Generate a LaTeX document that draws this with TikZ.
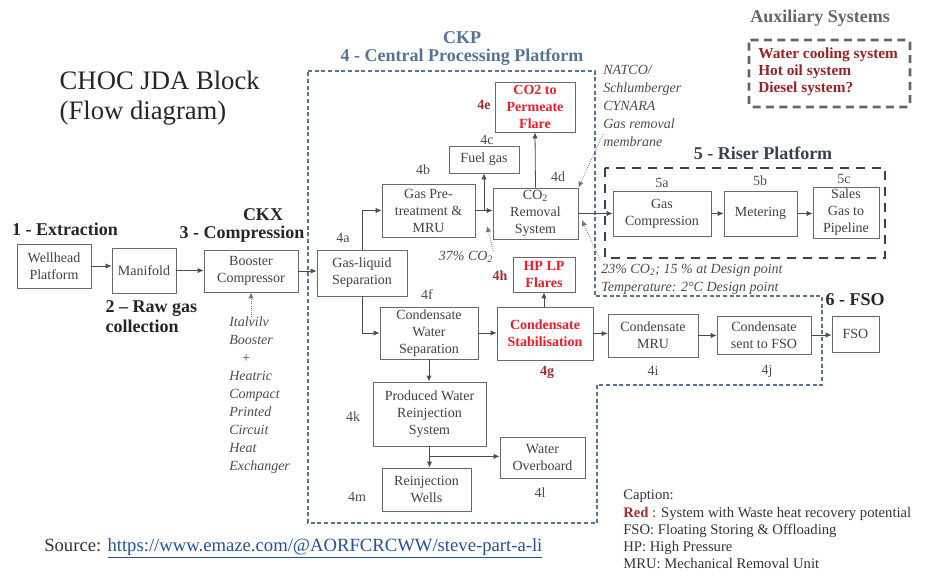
\documentclass[tikz,border=0pt]{standalone}
\usepackage{fontspec}
\setmainfont{Liberation Serif}
\usetikzlibrary{arrows.meta,positioning,calc}
\definecolor{boxLine}{RGB}{105,105,105}
\definecolor{boxText}{RGB}{65,65,65}
\definecolor{wasteRed}{RGB}{238,28,36}
\definecolor{labRed}{RGB}{165,45,45}
\definecolor{auxRed}{RGB}{150,35,35}
\definecolor{ckpBlue}{RGB}{85,115,150}
\definecolor{riserSlate}{RGB}{55,65,85}
\definecolor{noteGray}{RGB}{75,75,75}
\definecolor{linkBlue}{RGB}{35,80,160}
\tikzset{chocpanel/.style={
  x=0.75pt, y=-0.75pt,
  font=\rmfamily\fontsize{10.5}{12.75}\selectfont,
  unitbox/.style={draw=boxLine, line width=0.6pt, fill=white, text=boxText, align=center, inner sep=1pt},
  hotbox/.style={unitbox, text=wasteRed, font=\rmfamily\bfseries\fontsize{10.5}{12.75}\selectfont},
  flow/.style={-{Latex[length=4.5pt,width=4pt]}, line width=0.6pt, draw=black!70},
  hint/.style={-{Latex[length=4.5pt,width=4pt]}, densely dotted, line width=0.6pt, draw=black!55},
  stagehead/.style={font=\rmfamily\bfseries\fontsize{13.5}{15}\selectfont, text=black!85},
  tag/.style={font=\rmfamily\fontsize{10.5}{12}\selectfont, text=black!70},
  hottag/.style={font=\rmfamily\bfseries\fontsize{10.5}{12}\selectfont, text=labRed},
  note/.style={font=\rmfamily\itshape\fontsize{10.5}{13.5}\selectfont, text=noteGray, align=left, inner sep=0pt},
  ckpzone/.style={draw=ckpBlue, line width=0.8pt, dash pattern=on 3pt off 2pt},
  riserzone/.style={draw=riserSlate, line width=2pt, dash pattern=on 7pt off 5pt},
  auxzone/.style={draw=black!60, line width=2pt, dash pattern=on 6pt off 4pt, rounded corners=2pt},
}}

\begin{document}
\begin{tikzpicture}[chocpanel]
\useasboundingbox (0,0) rectangle (928,577);

% ---- title ----
\node[font=\rmfamily\fontsize{20}{22}\selectfont, text=black!85, align=left, anchor=west] (title) at (55,98) {CHOC JDA Block\\(Flow diagram)};

% ---- zones ----
\draw[ckpzone] (308,71) -- (595,71) -- (595,296) -- (822,296) -- (822,385) -- (597,385) -- (597,523) -- (308,523) -- cycle;
\draw[riserzone] (605,168) rectangle (885,258);
\draw[auxzone] (749,40) rectangle (910,107);

% ---- stage headings ----
\node[stagehead] (hExtr) at (65,229) {1 - Extraction};
\node[stagehead, align=left, anchor=west] (hRaw) at (101,317) {2 -- Raw gas\\collection};
\node[stagehead, inner sep=0pt] (hCkx) at (263,215) {CKX};
\node[stagehead, inner sep=0pt] (hComp) at (242,234) {3 - Compression};
\node[stagehead, text=ckpBlue] (hCkp) at (462,38) {CKP};
\node[stagehead, text=ckpBlue] (hCentral) at (462,57) {4 - Central Processing Platform};
\node[stagehead, text=riserSlate] (hRiser) at (763,153) {5 - Riser Platform};
\node[stagehead] (hFso) at (855,300) {6 - FSO};
\node[stagehead, text=black!60] (hAux) at (820,18) {Auxiliary Systems};
\node[font=\rmfamily\bfseries\fontsize{11.5}{13}\selectfont, text=auxRed, align=left, anchor=west, inner sep=0pt] (auxList) at (758,72)
  {Water cooling system\\Hot oil system\\Diesel system?};

% ---- stages 1 to 3 ----
\node[unitbox, minimum width=55.5pt, minimum height=33pt] (well) at (54,266) {Wellhead\\Platform};
\node[unitbox, minimum width=48pt, minimum height=33.75pt] (manifold) at (144,270.5) {Manifold};
\node[unitbox, minimum width=70.5pt, minimum height=31.5pt] (booster) at (251,271) {Booster\\Compressor};

% ---- stage 4: gas train ----
\node[unitbox, minimum width=67.5pt, minimum height=34.5pt] (gasliq) at (362,273) {Gas-liquid\\Separation};
\node[unitbox, minimum width=69.75pt, minimum height=39.75pt] (pretreat) at (428.5,210.5) {Gas Pre-\\treatment \&\\MRU};
\node[unitbox, minimum width=52.5pt, minimum height=20.25pt] (fuel) at (484,159.5) {Fuel gas};
\node[unitbox, minimum width=63.75pt, minimum height=38.25pt] (co2rem) at (535.5,213.5) {CO\textsubscript{2}\\Removal\\System};
\node[hotbox, minimum width=60pt, minimum height=37.5pt] (permeate) at (535,107) {CO2 to\\Permeate\\Flare};
\node[hotbox, minimum width=46.5pt, minimum height=26.25pt] (flares) at (544,274.5) {HP LP\\Flares};

% ---- stage 4: liquids ----
\node[unitbox, minimum width=73.5pt, minimum height=39pt] (cws) at (429,333) {Condensate\\Water\\Separation};
\node[hotbox, minimum width=72pt, minimum height=39.75pt] (stab) at (545,333.5) {Condensate\\Stabilisation};
\node[unitbox, minimum width=84.75pt, minimum height=48pt] (pwr) at (429.5,414) {Produced Water\\Reinjection\\System};
\node[unitbox, minimum width=66.75pt, minimum height=32.25pt] (wells) at (426.5,489.5) {Reinjection\\Wells};
\node[unitbox, minimum width=63.75pt, minimum height=30.75pt] (overboard) at (542.5,457.5) {Water\\Overboard};
\node[unitbox, minimum width=67.5pt, minimum height=32.25pt] (cmru) at (653,335.5) {Condensate\\MRU};
\node[unitbox, minimum width=70.5pt, minimum height=28.5pt] (csent) at (764,335) {Condensate\\sent to FSO};
\node[unitbox, minimum width=35.25pt, minimum height=27pt] (fso) at (855.5,334) {FSO};

% ---- stage 5 ----
\node[unitbox, minimum width=73.5pt, minimum height=33.75pt] (gascomp) at (662,213.5) {Gas\\Compression};
\node[unitbox, minimum width=54.75pt, minimum height=33.75pt] (meter) at (760.5,213.5) {Metering};
\node[unitbox, minimum width=49.5pt, minimum height=38.25pt] (sales) at (846,212.5) {Sales\\Gas to\\Pipeline};

% ---- unit tags ----
\node[tag] (t4a) at (343,238) {4a};
\node[tag] (t4b) at (423,170) {4b};
\node[tag] (t4c) at (487,140) {4c};
\node[tag] (t4d) at (558,177) {4d};
\node[hottag] (t4e) at (484,105) {4e};
\node[tag] (t4f) at (427,295) {4f};
\node[hottag] (t4g) at (547,372) {4g};
\node[hottag] (t4h) at (500,276) {4h};
\node[tag] (t4i) at (653,371) {4i};
\node[tag] (t4j) at (767,371) {4j};
\node[tag] (t4k) at (353,417) {4k};
\node[tag] (t4l) at (540,493) {4l};
\node[tag] (t4m) at (357,497) {4m};
\node[tag] (t5a) at (662,183) {5a};
\node[tag] (t5b) at (760,181) {5b};
\node[tag] (t5c) at (844,179) {5c};

% ---- main flows ----
\draw[flow] (well.east) -- (well.east -| manifold.west);
\draw[flow] (manifold.east) -- (manifold.east -| booster.west);
\draw[flow] (booster.east) -- (booster.east -| gasliq.west);
\draw[flow] (gasliq.north) |- (pretreat.west);
\draw[flow] (gasliq.south) |- (cws.west);
\draw[flow] (pretreat.east) -- (pretreat.east -| co2rem.west);
\coordinate (fuelTap) at (fuel.south |- pretreat.east);
\draw[flow] (fuelTap) -- (fuel.south);
\draw[flow] (co2rem.north) -- (permeate.south);
\draw[flow] (co2rem.east) -- (co2rem.east -| gascomp.west);
\draw[flow] (gascomp.east) -- (gascomp.east -| meter.west);
\draw[flow] (meter.east) -- (meter.east -| sales.west);
\draw[flow] (cws.east) -- (cws.east -| stab.west);
\draw[flow] (stab.north) -- (stab.north -| flares.south) -- (flares.south);
\draw[flow] (stab.east) -- (stab.east -| cmru.west);
\draw[flow] (cmru.east) -- (cmru.east -| csent.west);
\draw[flow] (csent.east) -- (csent.east -| fso.west);
\draw[flow] (cws.south) -- (cws.south |- pwr.north);
\draw[flow] (pwr.south) -- (pwr.south |- wells.north);
\coordinate (wSplit) at ($(pwr.south)+(0,10)$);
\draw[flow] (wSplit) -- (wSplit -| overboard.west);

% ---- notes ----
\node[note, anchor=north west] (boostNote) at (229,317)
  {Italvilv\\Booster\\\hspace*{9pt}+\\Heatric\\Compact\\Printed\\Circuit\\Heat\\Exchanger};
\node[note] (co2pct) at (466,257) {37\% CO\textsubscript{2}};
\node[note, anchor=north west] (natco) at (603,65)
  {NATCO/\\Schlumberger\\CYNARA\\Gas removal\\membrane};
\node[note, anchor=north west] (design) at (601,264)
  {23\% CO\textsubscript{2}; 15 \% at Design point\\Temperature: 2°C Design point};
\coordinate (co2Feed) at (487,226);
\coordinate (co2Side) at (582,220);
\coordinate (natcoTip) at (603,134);
\coordinate (designTip) at (600,260);
\draw[hint] (booster.south |- boostNote.north) -- (booster.south);
\draw[hint] (co2pct.north east) -- (co2Feed);
\draw[hint] (natcoTip) -- (co2rem.north east);
\draw[hint] (designTip) -- (co2Side);

% ---- caption and source ----
\node[font=\rmfamily\fontsize{11}{12.9}\selectfont, text=black!80, align=left, anchor=north west, inner sep=0pt] (caption) at (623,490)
  {Caption:\\\textcolor{labRed}{\bfseries Red} : System with Waste heat recovery potential\\FSO: Floating Storing \& Offloading\\HP: High Pressure\\MRU: Mechanical Removal Unit};
\node[font=\rmfamily\fontsize{14}{16}\selectfont, text=black!80, anchor=west, inner sep=0pt] (source) at (44,548)
  {Source: \textcolor{linkBlue}{\underline{https://www.emaze.com/@AORFCRCWW/steve-part-a-li}}};
\end{tikzpicture}
\end{document}
